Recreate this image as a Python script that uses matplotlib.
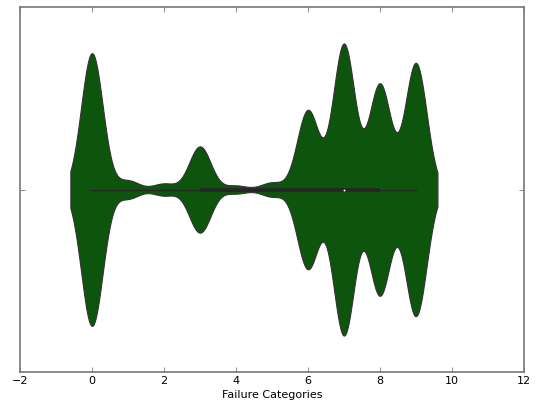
import numpy as np
import matplotlib
matplotlib.use("Agg")
import matplotlib.pyplot as plt

# failure counts per category
categories = np.array([0, 1, 2, 3, 4, 5, 6, 7, 8, 9])
counts = np.array([136, 9, 6, 43, 4, 7, 79, 145, 105, 126])

bw = 0.3      # kernel bandwidth (data units)
cut = 2       # how far past the data the density is drawn, in bandwidths
width = 0.8
violin_color = "#0d540d"

samples = np.repeat(categories, counts)

# gaussian kde on a grid, same as a violin plot would do
grid = np.linspace(samples.min() - cut * bw, samples.max() + cut * bw, 600)
dens = np.zeros_like(grid)
for c, n in zip(categories, counts):
    dens += n * np.exp(-0.5 * ((grid - c) / bw) ** 2)
dens = dens / dens.max() * width / 2

q1, med, q3 = np.percentile(samples, [25, 50, 75])

fig = plt.figure(figsize=(5.4, 4.08), dpi=100)
ax = fig.add_axes([0.037, 0.088, 0.933, 0.895])

ax.fill_between(grid, -dens, dens, facecolor=violin_color,
                edgecolor="#333333", linewidth=0.8, zorder=2)

# inner box: whiskers, quartile bar, median point
ax.plot([samples.min(), samples.max()], [0, 0], color="#262626", lw=0.9, zorder=3)
ax.plot([q1, q3], [0, 0], color="#262626", lw=2.6, solid_capstyle="butt", zorder=3)
ax.scatter([med], [0], s=2, color="white", zorder=4, linewidths=0)

ax.set_xlim(-2, 12)
ax.set_ylim(0.5, -0.5)
ax.set_xticks(np.arange(-2, 13, 2))
ax.set_yticks([0])
ax.set_yticklabels([""])
ax.set_xlabel("Failure Categories", fontsize=8, labelpad=3)

ax.tick_params(direction="in", top=True, right=True, length=3.5, width=0.6,
               color="#777777", labelsize=8, pad=3)
for sp in ax.spines.values():
    sp.set_color("#777777")
    sp.set_linewidth(1.2)

fig.savefig("out.png", dpi=100)
